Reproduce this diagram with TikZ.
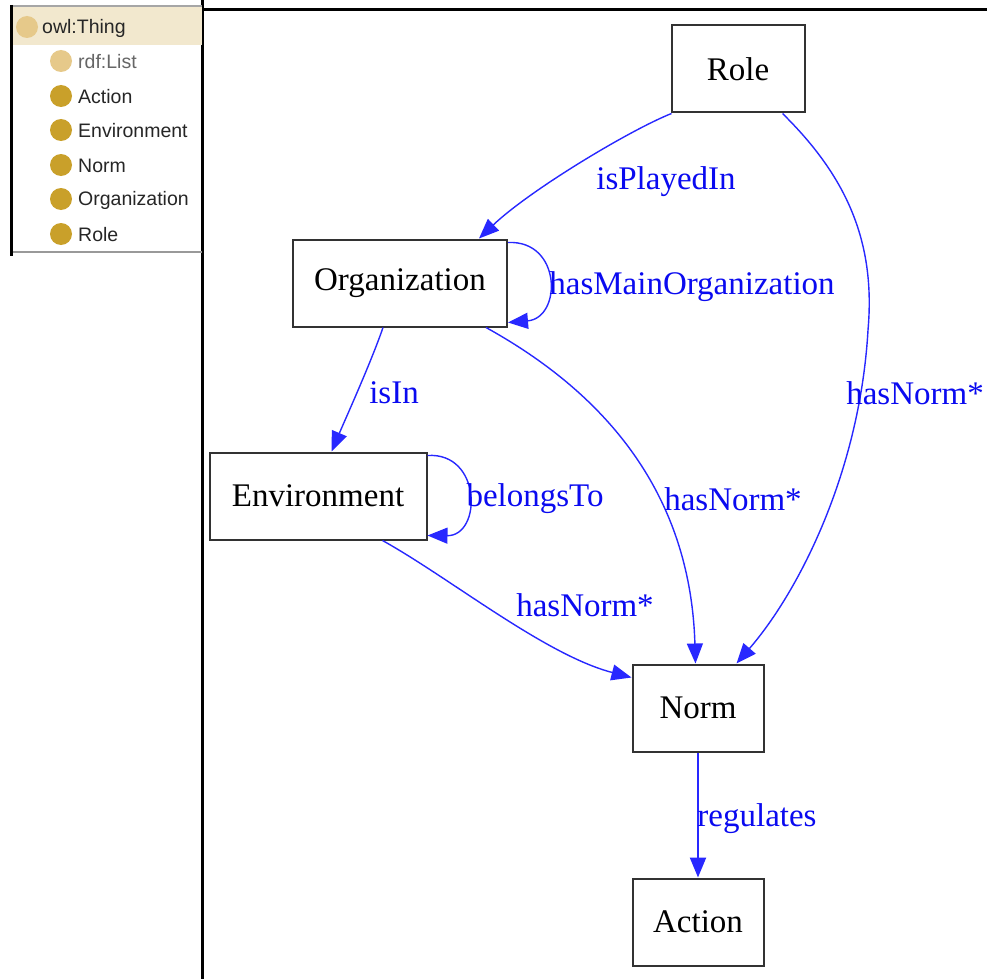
\documentclass[tikz,border=0pt]{standalone}
\usepackage{fontspec}
\setmainfont{Liberation Serif}
\newfontfamily\panelfont{Liberation Sans}
\usetikzlibrary{arrows.meta}
\definecolor{edgeblue}{RGB}{40,40,255}
\definecolor{labelblue}{RGB}{10,10,240}
\definecolor{headbg}{RGB}{242,232,206}
\definecolor{lightgold}{RGB}{230,201,138}
\definecolor{darkgold}{RGB}{201,160,42}
\definecolor{boxline}{RGB}{50,50,50}
\tikzset{
  classbox/.style={draw=boxline, line width=2pt, fill=white, inner sep=0pt,
    font=\fontsize{33}{38}\selectfont, text=black},
  edge/.style={draw=edgeblue, line width=1.4pt, -{Triangle[length=20pt,width=16pt]}},
  elabel/.style={font=\fontsize{33}{38}\selectfont, text=labelblue, inner sep=0pt},
  dot/.style={circle, inner sep=0pt, minimum size=22pt},
  ptext/.style={font=\panelfont\fontsize{19.5}{23}\selectfont, anchor=west, inner sep=0pt}
}
\begin{document}
\begin{tikzpicture}[x=1pt,y=-1pt]
\useasboundingbox (0,0) rectangle (987,979);
\fill[white] (0,0) rectangle (987,979);

% frame lines
\draw[line width=3pt, black] (202,10) -- (987,10);
\draw[line width=3pt, black] (202,0) -- (202,979);

% class panel
\fill[headbg] (12,6) rectangle (202,45);
\draw[line width=2pt, gray!70] (12,6) -- (202,6);
\draw[line width=2.5pt, gray!80] (12,252) -- (202,252);
\draw[line width=3pt, black] (11.5,5) -- (11.5,256);
\node[dot, fill=lightgold] (dthing) at (27,27) {};
\node[ptext, text=black!85] (tthing) at (42,28) {owl:Thing};
\node[dot, fill=lightgold] (dlist) at (61,61) {};
\node[ptext, text=black!60] (tlist) at (78,62) {rdf:List};
\node[dot, fill=darkgold] (dact) at (61,96) {};
\node[ptext, text=black!85] (tact) at (78,97) {Action};
\node[dot, fill=darkgold] (denv) at (61,130) {};
\node[ptext, text=black!85] (tenv) at (78,131) {Environment};
\node[dot, fill=darkgold] (dnorm) at (61,165) {};
\node[ptext, text=black!85] (tnorm) at (78,166) {Norm};
\node[dot, fill=darkgold] (dorg) at (61,199) {};
\node[ptext, text=black!85] (torg) at (78,200) {Organization};
\node[dot, fill=darkgold] (drole) at (61,234) {};
\node[ptext, text=black!85] (trole) at (78,235) {Role};

% class boxes
\node[classbox, minimum width=133pt, minimum height=87pt] (role) at (738,69) {Role};
\node[classbox, minimum width=214pt, minimum height=87pt] (org) at (400,283) {Organization};
\node[classbox, minimum width=217pt, minimum height=87pt] (env) at (318,496) {Environment};
\node[classbox, minimum width=131pt, minimum height=87pt] (norm) at (698,708) {Norm};
\node[classbox, minimum width=131pt, minimum height=87pt] (act) at (698,922) {Action};

% anchors on boxes
\coordinate (roleA) at ([xshift=1pt]role.south west);
\coordinate (roleB) at ([xshift=112pt]role.south west);
\coordinate (orgTop) at ([xshift=187pt]org.north west);
\coordinate (orgR1) at ([yshift=-4pt]org.north east);
\coordinate (orgR2) at ([yshift=5pt]org.south east);
\coordinate (orgB1) at ([xshift=91pt]org.south west);
\coordinate (orgB2) at ([xshift=194pt]org.south west);
\coordinate (envTop) at ([xshift=123pt]env.north west);
\coordinate (envR1) at ([yshift=-4pt]env.north east);
\coordinate (envR2) at ([yshift=5pt]env.south east);
\coordinate (envB) at ([xshift=174pt]env.south west);
\coordinate (normL) at ([yshift=-14pt]norm.north west);
\coordinate (normT1) at ([xshift=64pt]norm.north west);
\coordinate (normT2) at ([xshift=105pt]norm.north west);

% edges
\draw[edge] (roleA) .. controls (630,130) and (530,190) .. (orgTop);
\draw[edge] (orgR1) .. controls (562,240) and (562,318) .. (orgR2);
\draw[edge] (orgB1) .. controls (372,360) and (345,420) .. (envTop);
\draw[edge] (envR1) .. controls (482,452) and (482,536) .. (envR2);
\draw[edge] (orgB2) .. controls (590,385) and (690,480) .. (normT1);
\draw[edge] (roleB) .. controls (845,175) and (876,240) .. (868,330)
                   .. controls (860,470) and (800,590) .. (normT2);
\draw[edge] (envB) .. controls (450,578) and (545,655) .. (normL);
\draw[edge, line width=2.2pt] (norm) -- (act);

% edge labels
\node[elabel] (lplay) at (666,182) {isPlayedIn};
\node[elabel] (lmain) at (692,287) {hasMainOrganization};
\node[elabel] (lisin) at (394,393) {isIn};
\node[elabel] (lbel) at (535,499) {belongsTo};
\node[elabel] (lhn1) at (733,499) {hasNorm*};
\node[elabel, anchor=east] (lhn2) at (984,393) {hasNorm*};
\node[elabel] (lhn3) at (585,605) {hasNorm*};
\node[elabel] (lreg) at (757,819) {regulates};
\end{tikzpicture}
\end{document}
